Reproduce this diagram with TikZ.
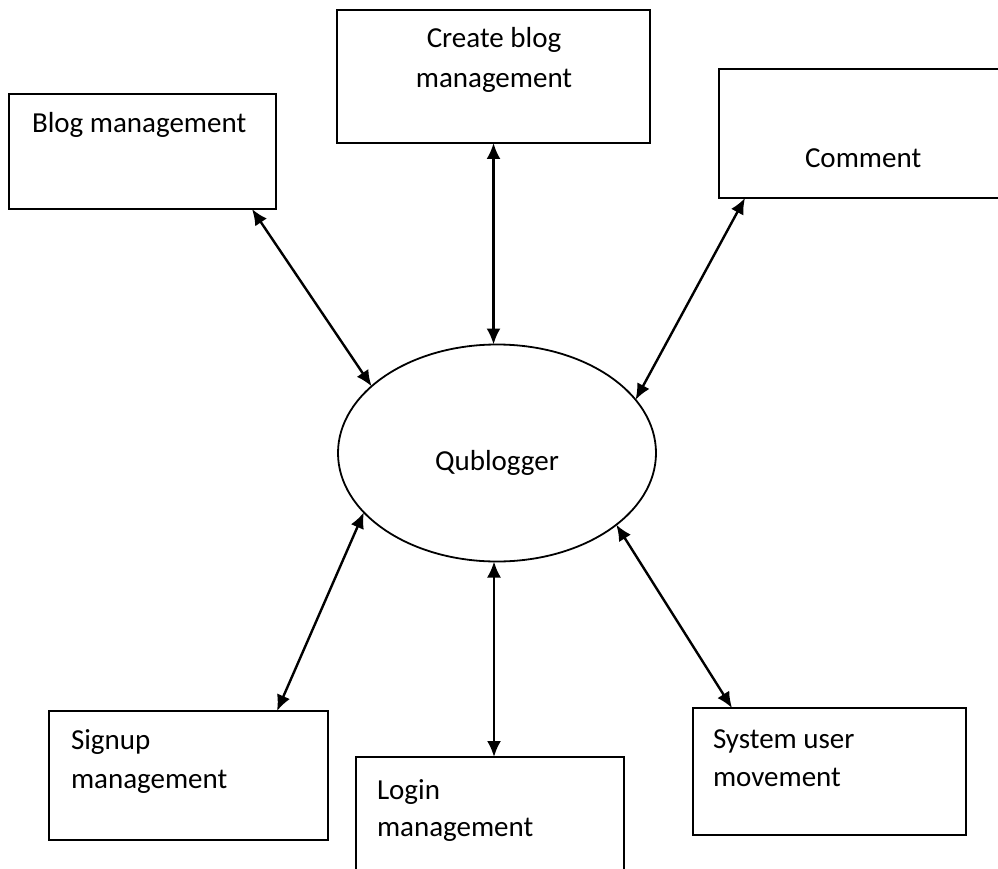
\documentclass[tikz,border=0pt]{standalone}
\usepackage{fontspec}
\setmainfont{Carlito}
\usetikzlibrary{arrows.meta,shapes.geometric,calc}
\tikzset{
  boxnode/.style={draw=black, line width=2pt, rectangle, inner sep=0pt, outer sep=0pt},
  ellnode/.style={draw=black, line width=1.8pt, ellipse, inner sep=0pt, outer sep=0pt},
  txt/.style={inner sep=0pt, outer sep=0pt, font=\fontsize{29}{36}\selectfont},
  link/.style={line width=2.4pt, >={Latex[length=16pt,width=14pt]}, <->}
}
\begin{document}
\begin{tikzpicture}[x=1pt,y=-1pt]
\useasboundingbox (0,0) rectangle (998,869);
\clip (0,0) rectangle (998,869);
% boxes
\node[boxnode, minimum width=267pt, minimum height=115pt] (blog) at (142.5,151.5) {};
\node[boxnode, minimum width=313pt, minimum height=133pt] (create) at (493.5,76.5) {};
\node[boxnode, minimum width=300pt, minimum height=129pt] (comment) at (869,133.5) {};
\node[ellnode, minimum width=318pt, minimum height=217pt] (ell) at (497,453) {};
\node[boxnode, minimum width=279pt, minimum height=129pt] (signup) at (188.5,775.5) {};
\node[boxnode, minimum width=268pt, minimum height=140pt] (login) at (490,827) {};
\node[boxnode, minimum width=273pt, minimum height=127pt] (system) at (829.5,771.5) {};
% texts
\node[txt, anchor=base west] (tblog) at (32,133) {Blog management};
\node[txt, anchor=base] (tcreate1) at (494,48) {Create blog};
\node[txt, anchor=base] (tcreate2) at (494,88) {management};
\node[txt, anchor=base west] (tcomment) at (805,168) {Comment};
\node[txt] (tqub) at (497,463) {Qublogger};
\node[txt, anchor=base west] (tsignup1) at (71,749) {Signup};
\node[txt, anchor=base west] (tsignup2) at (71,788) {management};
\node[txt, anchor=base west] (tlogin1) at (377,799) {Login};
\node[txt, anchor=base west] (tlogin2) at (377,836) {management};
\node[txt, anchor=base west] (tsystem1) at (713,748) {System user};
\node[txt, anchor=base west] (tsystem2) at (713,786) {movement};
% anchor points on boxes
\coordinate (pblog) at ($(blog.south west)+(243,0)$);
\coordinate (pcomment) at ($(comment.south west)+(26,0)$);
\coordinate (psignup) at ($(signup.north west)+(228,0)$);
\coordinate (plogin) at ($(login.north west)+(138,0)$);
\coordinate (psystem) at ($(system.north west)+(39,0)$);
% connectors
\draw[link] (pblog) -- (ell.152.5);
\draw[link] (create.south) -- (create.south |- ell.north);
\draw[link] (pcomment) -- (ell.21);
\draw[link] (ell.204.4) -- (psignup);
\draw[link] (plogin |- ell.south) -- (plogin);
\draw[link] (ell.329.3) -- (psystem);
\end{tikzpicture}
\end{document}
